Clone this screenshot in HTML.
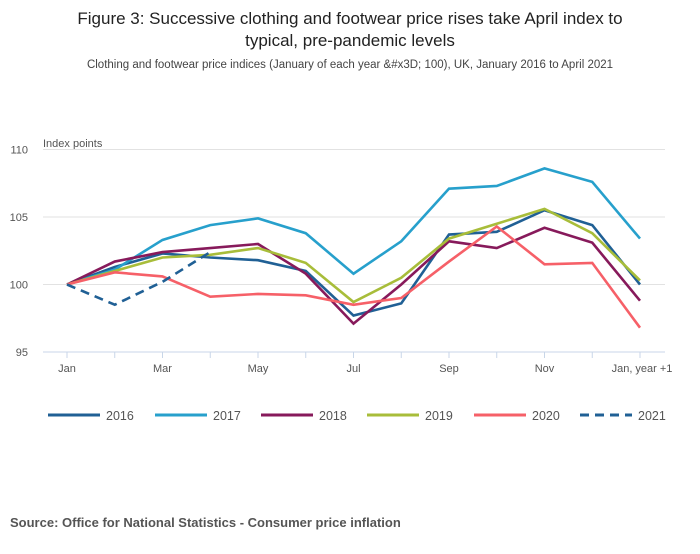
<!DOCTYPE html>
<html><head><meta charset="utf-8"><style>
body{margin:0;background:#fff;font-family:"Liberation Sans",sans-serif;}
</style></head><body>
<svg width="700" height="549" xmlns="http://www.w3.org/2000/svg" font-family="Liberation Sans, sans-serif">
<text x="350" y="24" text-anchor="middle" font-size="17" fill="#222">Figure 3: Successive clothing and footwear price rises take April index to</text>
<text x="350" y="46" text-anchor="middle" font-size="17" fill="#222">typical, pre-pandemic levels</text>
<text x="350" y="68" text-anchor="middle" font-size="11.5" fill="#444">Clothing and footwear price indices (January of each year &amp;#x3D; 100), UK, January 2016 to April 2021</text>
<text x="43" y="147" font-size="11" fill="#555">Index points</text>
<g id="grid"></g><g id="lines"></g><g id="legend"></g>
<text x="10" y="527" font-size="13" font-weight="bold" fill="#555">Source: Office for National Statistics - Consumer price inflation</text>
</svg>
<script>
const months=["Jan","Feb","Mar","Apr","May","Jun","Jul","Aug","Sep","Oct","Nov","Dec","Jan, year +1"];
const xTickLabels=["Jan","Mar","May","Jul","Sep","Nov","Jan, year +1"];
const yTicks=[95,100,105,110];
const s2016=[100,101.3,102.3,102.0,101.8,101.0,97.7,98.6,103.7,103.9,105.5,104.4,100.0];
const s2017=[100,101.1,103.3,104.4,104.9,103.8,100.8,103.2,107.1,107.3,108.6,107.6,103.4];
const s2018=[100,101.7,102.4,102.7,103.0,100.8,97.1,100.0,103.2,102.7,104.2,103.1,98.8];
const s2019=[100,101.0,102.0,102.2,102.7,101.6,98.7,100.5,103.4,104.5,105.6,103.8,100.3];
const s2020=[100,100.9,100.6,99.1,99.3,99.2,98.5,99.0,101.7,104.3,101.5,101.6,96.8];
const s2021=[100,98.5,100.2,102.4];
const seriesNames=["2016","2017","2018","2019","2020","2021"];
const NS="http://www.w3.org/2000/svg";
const x=i=>67+i*(640-67)/12;
const y=v=>352-(v-95)*(352-149.5)/15;
function mk(t,a,p){const e=document.createElementNS(NS,t);for(const k in a)e.setAttribute(k,a[k]);p.appendChild(e);return e;}
const g=document.getElementById('grid');
yTicks.forEach(v=>{
 const l=mk('line',{x1:43,x2:665,y1:y(v),y2:y(v),stroke:v==95?'#c8d6e8':'#e2e2e2'},g);
 
 
 const t=mk('text',{x:28,y:y(v)+4,'font-size':11,fill:'#555','text-anchor':'end'},g);t.textContent=v;
 
 
});
months.forEach((m,i)=>{
 const l=mk('line',{x1:x(i),x2:x(i),y1:352,y2:358,stroke:'#c8d6e8'},g);
 
 
 if(xTickLabels.includes(m)){
  const t=mk('text',{x:x(i)+(i==12?2:0),y:372,'font-size':11,fill:'#555','text-anchor':'middle'},g);t.textContent=m;
  
  
 }
});
const data=[s2016,s2017,s2018,s2019,s2020,s2021];
const colors=["#206095","#27a0cc","#871a5b","#a8bd3a","#f66068","#206095"];
const lg=document.getElementById('lines');
data.forEach((d,k)=>{
 const p=mk('polyline',{points:d.map((v,i)=>x(i)+','+y(v)).join(' '),fill:'none',stroke:colors[k],'stroke-width':2.6,'stroke-dasharray':k==5?'9,6':'none'},lg);
 
 
});
const leg=document.getElementById('legend');
const lx=[48,155,261,367,474,580];
seriesNames.forEach((n,k)=>{
 const l=mk('line',{x1:lx[k],x2:lx[k]+52,y1:415,y2:415,stroke:colors[k],'stroke-width':3,'stroke-dasharray':k==5?'9,6':'none'},leg);
 
 
 const t=mk('text',{x:lx[k]+58,y:420,'font-size':12.5,fill:'#555'},leg);t.textContent=n;
 
 
});
</script>
</body></html>
